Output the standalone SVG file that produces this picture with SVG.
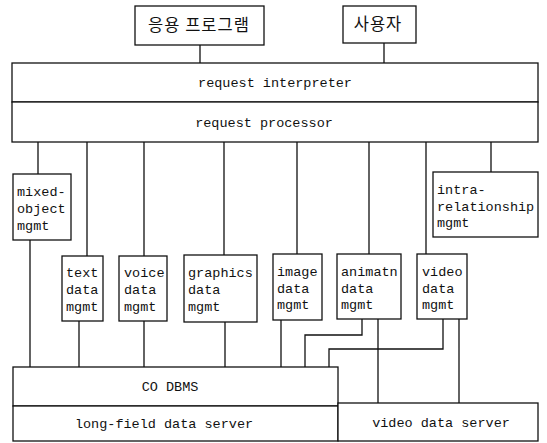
<svg xmlns="http://www.w3.org/2000/svg" width="547" height="443" viewBox="0 0 547 443">
<style>
.box{fill:#fff;stroke:#111;stroke-width:1.3}
.ln{fill:none;stroke:#111;stroke-width:1.3}
.t{font-family:"Liberation Mono","DejaVu Sans Mono",monospace;font-size:13.5px;fill:#111}
.c{text-anchor:middle}
.k{font-family:"Noto Sans CJK KR","Noto Sans",sans-serif;font-size:16.5px;fill:#111;text-anchor:middle}
</style>
<rect width="547" height="443" fill="#fff"/>
<g id="connectors">
<path class="ln" d="M200 45V63M384 43V63"/>
<path class="ln" d="M38 142V174M87 142V256M144 142V256M224 142V255M297 142V254M369 142V254M426 142V254M491 142V172"/>
<path class="ln" d="M30 240V367M79 321V367M144 321V367M225 322V367M281 320V367"/>
<path class="ln" d="M362 319V335H305V367M378 319V403"/>
<path class="ln" d="M443 319V349H329V367M459 319V403"/>
</g>
<g id="app"><rect class="box" x="135" y="6" width="129" height="39"/><text class="k" x="199" y="31" letter-spacing="1">응용 프로그램</text></g>
<g id="user"><rect class="box" x="343" y="6" width="73" height="37"/><text class="k" x="378" y="30" letter-spacing="1">사용자</text></g>
<g id="interpreter"><rect class="box" x="12" y="63" width="526" height="39"/><text class="t c" x="275" y="87">request interpreter</text></g>
<g id="processor"><rect class="box" x="12" y="102" width="526" height="40"/><text class="t c" x="264" y="127">request processor</text></g>
<g id="mixed"><rect class="box" x="13" y="174" width="58" height="66"/><text class="t" x="17" y="196">mixed-</text><text class="t" x="17" y="213">object</text><text class="t" x="17" y="230">mgmt</text></g>
<g id="intra"><rect class="box" x="433" y="172" width="105" height="65"/><text class="t" x="437" y="194">intra-</text><text class="t" x="437" y="211">relationship</text><text class="t" x="437" y="227">mgmt</text></g>
<g id="text"><rect class="box" x="62" y="256" width="41" height="65"/><text class="t" x="66" y="277">text</text><text class="t" x="66" y="294">data</text><text class="t" x="66" y="311">mgmt</text></g>
<g id="voice"><rect class="box" x="119" y="256" width="48" height="65"/><text class="t" x="124" y="277">voice</text><text class="t" x="124" y="294">data</text><text class="t" x="124" y="311">mgmt</text></g>
<g id="graphics"><rect class="box" x="184" y="255" width="73" height="67"/><text class="t" x="188" y="277">graphics</text><text class="t" x="188" y="294">data</text><text class="t" x="188" y="311">mgmt</text></g>
<g id="image"><rect class="box" x="273" y="254" width="49" height="66"/><text class="t" x="277" y="276">image</text><text class="t" x="277" y="293">data</text><text class="t" x="277" y="309">mgmt</text></g>
<g id="animatn"><rect class="box" x="337" y="254" width="64" height="65"/><text class="t" x="341" y="276">animatn</text><text class="t" x="341" y="293">data</text><text class="t" x="341" y="309">mgmt</text></g>
<g id="video"><rect class="box" x="417" y="254" width="50" height="65"/><text class="t" x="422" y="276">video</text><text class="t" x="422" y="293">data</text><text class="t" x="422" y="309">mgmt</text></g>
<g id="dbms"><rect class="box" x="13" y="367" width="325" height="39"/><text class="t c" x="170" y="391">CO DBMS</text></g>
<g id="longfield"><rect class="box" x="13" y="406" width="325" height="35"/><text class="t c" x="164" y="428">long-field data server</text></g>
<g id="videoserver"><rect class="box" x="338" y="403" width="200" height="38"/><text class="t c" x="441" y="427">video data server</text></g>
</svg>
